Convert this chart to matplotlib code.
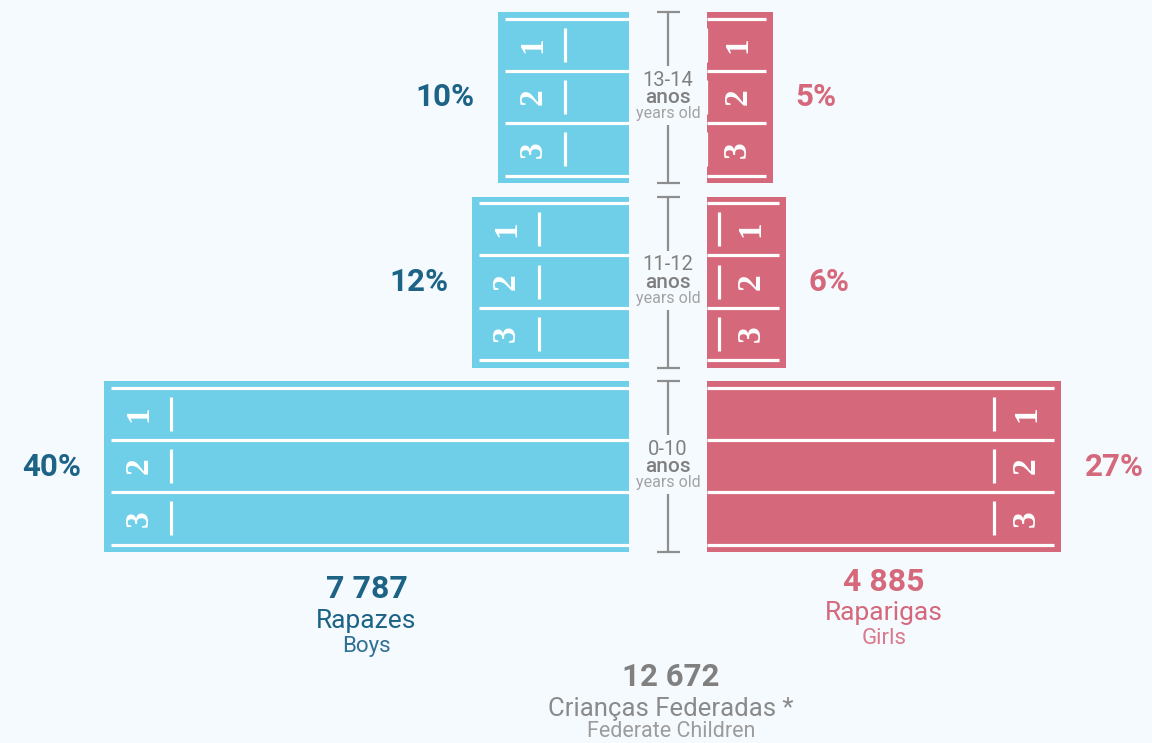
import matplotlib
matplotlib.use("Agg")
import matplotlib.pyplot as plt
import numpy as np

# ---------------- data ----------------
age_groups = ["0-10", "11-12", "13-14"]
boys_pct = [40, 12, 10]
girls_pct = [27, 6, 5]
lane_labels = ["1", "2", "3"]
anos_label = "anos"
years_label = "years old"
boys_total = "7 787"
girls_total = "4 885"
all_total = "12 672"
boys_name = ["Rapazes", "Boys"]
girls_name = ["Raparigas", "Girls"]
all_name = ["Crianças Federadas *", "Federate Children"]

# ---------------- style ----------------
W, H = 1152, 743
BG = "#F5FAFE"
BLUE = "#6FCEE8"
PINK = "#D5697B"
DARKBLUE = "#1C6386"
GRAY = "#808080"
LGRAY = "#A3A3A3"
FONT = "Roboto"
NUMFONT = "Liberation Serif"

PX = 13.125          # pixels per percent
PITCH = 184.5        # pixels between age-group rows
BOYS_RIGHT = 629
GIRLS_LEFT = 707
bar_h = 171 / PITCH

def py(p):
    return p / PITCH

def px(p):
    return p / PX

fig = plt.figure(figsize=(W / 100, H / 100), dpi=100, facecolor=BG)

ylim = ((466.5 - H) / PITCH, 466.5 / PITCH)

axB = fig.add_axes([0, 0, BOYS_RIGHT / W, 1])
axG = fig.add_axes([GIRLS_LEFT / W, 0, (W - GIRLS_LEFT) / W, 1])
axC = fig.add_axes([0, 0, 1, 1])
axB.set_xlim(BOYS_RIGHT / PX, 0)
axG.set_xlim(0, (W - GIRLS_LEFT) / PX)
axC.set_xlim(0, W)
for a in (axB, axG, axC):
    a.set_ylim(*ylim)
    a.axis("off")
    a.patch.set_alpha(0)

rows = np.arange(len(age_groups))

def draw_side(ax, vals, color, sign, label_color):
    ax.barh(rows, vals, height=bar_h, color=color, linewidth=0, zorder=1)
    for yi, v in zip(rows, vals):
        top = yi + bar_h / 2 - py(6.5)
        bot = yi - bar_h / 2 + py(7.5)
        lines = np.linspace(top, bot, 4)
        for yl in lines:
            ax.plot([0, v - px(7)], [yl, yl], color="white", lw=2.3,
                    solid_capstyle="butt", zorder=2)
        centers = (lines[:-1] + lines[1:]) / 2
        for lab, yc in zip(lane_labels, centers):
            ax.text(v - px(35), yc, lab, rotation=90, ha="center", va="center",
                    color="white", fontsize=24, fontweight="bold",
                    family=NUMFONT, zorder=3)
            ax.plot([v - px(67), v - px(67)], [yc + py(17), yc - py(17)],
                    color="white", lw=2.3, solid_capstyle="butt", zorder=2)
        ax.annotate(f"{v}%", xy=(v, yi), xytext=(sign * 23, 0),
                    textcoords="offset pixels",
                    ha="right" if sign < 0 else "left", va="center",
                    color=label_color, fontsize=22.5, fontweight="bold",
                    family=FONT)

draw_side(axB, boys_pct, BLUE, -1, DARKBLUE)
draw_side(axG, girls_pct, PINK, 1, PINK)

# center brackets with age labels
cx = (BOYS_RIGHT + GIRLS_LEFT) / 2
for yi, ag in zip(rows, age_groups):
    top = yi + bar_h / 2
    bot = yi - bar_h / 2
    kw = dict(color="#8E8E8E", lw=1.6, solid_capstyle="butt")
    axC.plot([cx, cx], [top, yi + py(31.5)], **kw)
    axC.plot([cx, cx], [yi - py(27.5), bot], **kw)
    axC.plot([cx - 11.5, cx + 11.5], [top, top], **kw)
    axC.plot([cx - 11.5, cx + 11.5], [bot, bot], **kw)
    axC.text(cx, yi + py(11.5), ag, ha="center", va="baseline",
             color=GRAY, fontsize=14.5, family=FONT)
    axC.text(cx, yi - py(5.5), anos_label, ha="center", va="baseline",
             color=GRAY, fontsize=15, fontweight="medium", family=FONT)
    axC.text(cx, yi - py(20.5), years_label, ha="center", va="baseline",
             color=LGRAY, fontsize=11.5, family=FONT)

# totals
base = rows[0] - bar_h / 2
bx = max(boys_pct) / 2
gx = max(girls_pct) / 2
axB.annotate(boys_total, xy=(bx, base), xytext=(0, -46), textcoords="offset pixels",
             ha="center", va="baseline", color=DARKBLUE, fontsize=23,
             fontweight="bold", family=FONT)
axB.annotate(boys_name[0], xy=(bx, base), xytext=(0, -76), textcoords="offset pixels",
             ha="center", va="baseline", color=DARKBLUE, fontsize=19, family=FONT)
axB.annotate(boys_name[1], xy=(bx, base), xytext=(0, -100), textcoords="offset pixels",
             ha="center", va="baseline", color="#2F7094", fontsize=16, family=FONT)
axG.annotate(girls_total, xy=(gx, base), xytext=(0, -39), textcoords="offset pixels",
             ha="center", va="baseline", color=PINK, fontsize=23,
             fontweight="bold", family=FONT)
axG.annotate(girls_name[0], xy=(gx, base), xytext=(0, -68), textcoords="offset pixels",
             ha="center", va="baseline", color=PINK, fontsize=19, family=FONT)
axG.annotate(girls_name[1], xy=(gx, base), xytext=(0, -92), textcoords="offset pixels",
             ha="center", va="baseline", color="#DA7A8B", fontsize=16, family=FONT)
axC.annotate(all_total, xy=(cx, base), xytext=(3, -134), textcoords="offset pixels",
             ha="center", va="baseline", color=GRAY, fontsize=22.5,
             fontweight="bold", family=FONT)
axC.annotate(all_name[0], xy=(cx, base), xytext=(3, -164), textcoords="offset pixels",
             ha="center", va="baseline", color="#8A8A8A", fontsize=18.5, family=FONT)
axC.annotate(all_name[1], xy=(cx, base), xytext=(3, -185), textcoords="offset pixels",
             ha="center", va="baseline", color="#9C9C9C", fontsize=15.5, family=FONT)

fig.savefig("out.png", dpi=100, facecolor=BG)
